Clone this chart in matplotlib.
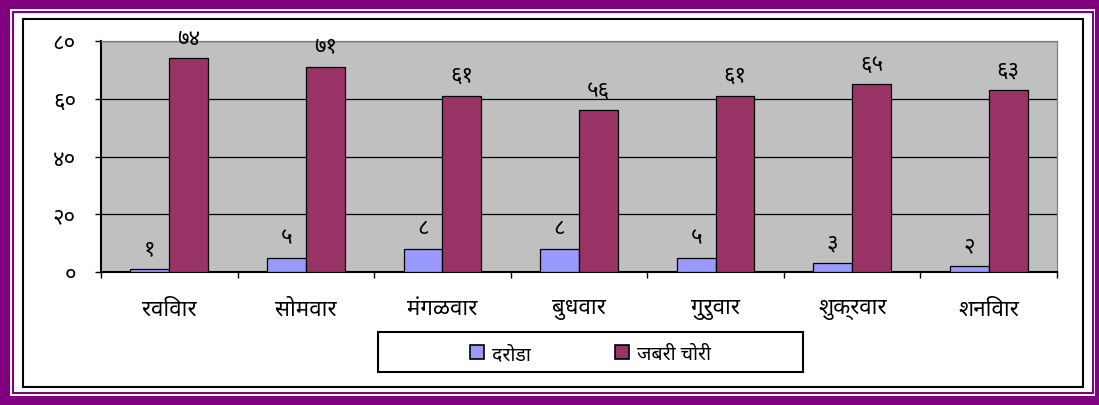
import matplotlib

matplotlib.use("Agg")

import matplotlib.pyplot as plt
import numpy as np
from matplotlib.patches import Patch, Rectangle
from matplotlib.ticker import FixedLocator, FuncFormatter

plt.rcParams["font.family"] = ["Noto Sans Devanagari", "DejaVu Sans"]

days = ["रविवार", "सोमवार", "मंगळवार", "बुधवार", "गुरुवार", "शुक्रवार", "शनिवार"]
robbery = [1, 5, 8, 8, 5, 3, 2]          # दरोडा
snatching = [74, 71, 61, 56, 61, 65, 63]  # जबरी चोरी
series_names = ["दरोडा", "जबरी चोरी"]
y_ticks = [0, 20, 40, 60, 80]

BLUE = "#9999FF"
MAROON = "#993366"
PLOT_GRAY = "#C0C0C0"
PURPLE = "#800080"

W, H = 1099, 406
DEVA_DIGITS = str.maketrans("0123456789", "०१२३४५६७८९")


def deva(n):
    return str(n).translate(DEVA_DIGITS)


def frac_box(x0, y0, x1, y1):
    # pixel box measured from the top-left corner -> figure fractions
    return x0 / W, 1 - y1 / H, (x1 - x0) / W, (y1 - y0) / H


fig = plt.figure(figsize=(W / 100, H / 100), dpi=100, facecolor=PURPLE)

# framed page: thick purple band, thin purple rule, black chart box (all behind the axes)
x, y, w, h = frac_box(10, 10, 1095, 397)
fig.add_artist(Rectangle((x, y), w, h, transform=fig.transFigure, facecolor="white",
                         edgecolor="none", zorder=-3))
x, y, w, h = frac_box(13, 13, 1092.5, 394)
fig.add_artist(Rectangle((x, y), w, h, transform=fig.transFigure, facecolor="none",
                         edgecolor=PURPLE, lw=1.5, zorder=-2))
x, y, w, h = frac_box(23, 20, 1083, 388)
fig.add_artist(Rectangle((x, y), w, h, transform=fig.transFigure, facecolor="none",
                         edgecolor="black", lw=1.5, zorder=-2))

ax = fig.add_axes(frac_box(101, 42, 1057, 273))
ax.set_facecolor(PLOT_GRAY)

idx = np.arange(len(days))
bw = 0.285
b1 = ax.bar(idx - bw / 2, robbery, bw, color=BLUE, edgecolor="black", lw=0.9, zorder=3)
b2 = ax.bar(idx + bw / 2, snatching, bw, color=MAROON, edgecolor="black", lw=0.9, zorder=3)
ax.bar_label(b1, labels=[deva(v) for v in robbery], padding=7, fontsize=16)
ax.bar_label(b2, labels=[deva(v) for v in snatching], padding=7, fontsize=16)

ax.set_xlim(-0.5, len(days) - 0.5)
ax.set_ylim(0, 80)
ax.set_yticks(y_ticks)
ax.yaxis.set_major_formatter(FuncFormatter(lambda v, _: deva(int(v))))
ax.tick_params(axis="y", direction="out", length=4, width=1, pad=14, labelsize=16)
ax.grid(axis="y", color="black", lw=0.9, zorder=1)

ax.set_xticks(idx)
ax.set_xticklabels(days, fontsize=16)
ax.tick_params(axis="x", which="major", length=0, pad=19)
ax.xaxis.set_minor_locator(FixedLocator(np.arange(-0.5, len(days), 1.0)))
ax.tick_params(axis="x", which="minor", direction="out", length=4, width=1)

for side in ("top", "right"):
    ax.spines[side].set_color("#808080")
    ax.spines[side].set_linewidth(0.9)
for side in ("left", "bottom"):
    ax.spines[side].set_color("black")
    ax.spines[side].set_linewidth(1.5)

# legend box below the plot
x, y, w, h = frac_box(378, 333, 803, 373)
fig.add_artist(Rectangle((x, y), w, h, transform=fig.transFigure, facecolor="white", edgecolor="black", lw=1.5))
handles = [Patch(facecolor=BLUE, edgecolor="black", lw=1.2), Patch(facecolor=MAROON, edgecolor="black", lw=1.2)]
fig.legend(handles, series_names, loc="center", bbox_to_anchor=(x + w / 2, y + h / 2 - 0.004),
           ncol=2, frameon=False, fontsize=14, handlelength=0.75, handleheight=0.75,
           handletextpad=0.4, columnspacing=4.3)

fig.savefig("out.png", dpi=100, facecolor=PURPLE)
